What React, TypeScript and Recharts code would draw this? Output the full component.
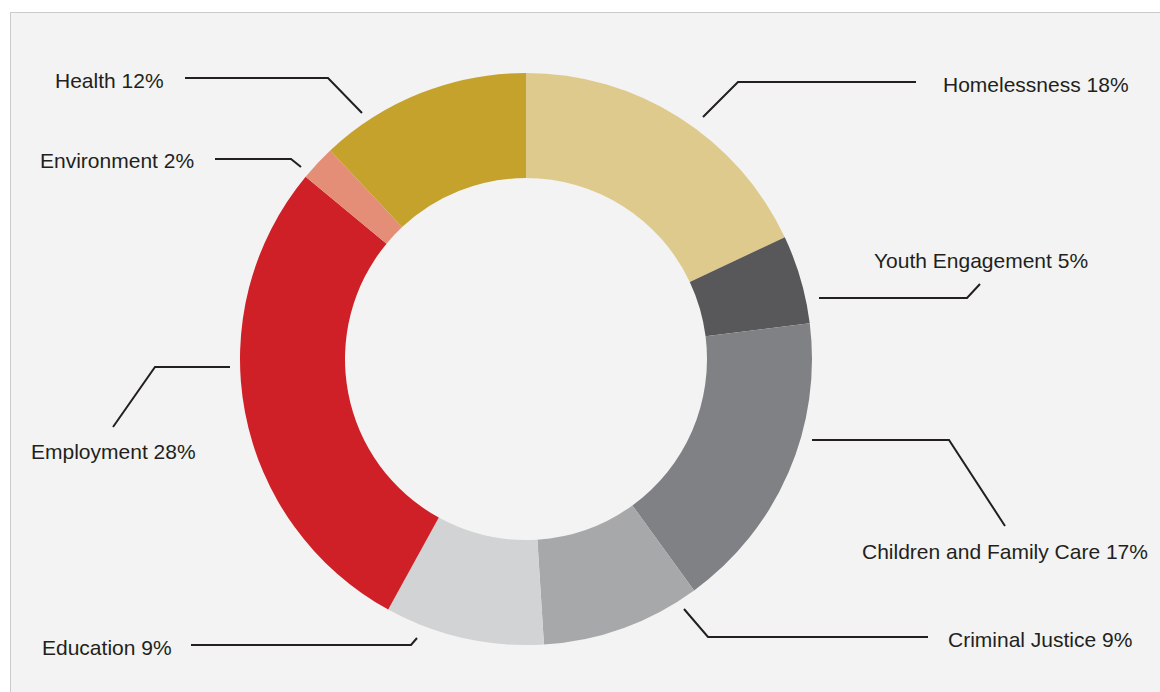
import React from "react";
import { PieChart, Pie, Cell } from "recharts";

const categories = [
  "Homelessness",
  "Youth Engagement",
  "Children and Family Care",
  "Criminal Justice",
  "Education",
  "Employment",
  "Environment",
  "Health",
];
const shares = [18, 5, 17, 9, 9, 28, 2, 12];
const colors = ["#dfca8e", "#58585a", "#808184", "#a7a8aa", "#d2d3d4", "#cf2027", "#e58e77", "#c5a22c"];

// Leader-line and label layout, offsets relative to the pie centre
const labelLayout: { line: [number, number][]; text: [number, number] }[] = [
  { line: [[177, -242], [212, -277], [390, -277]], text: [417, -267] },
  { line: [[293, -61], [441, -61], [454, -75]], text: [348, -91] },
  { line: [[286, 81], [423, 81], [479, 167]], text: [336, 200] },
  { line: [[158, 250], [182, 278], [402, 278]], text: [422, 288] },
  { line: [[-335, 286], [-115, 286], [-109, 279]], text: [-484, 296] },
  { line: [[-296, 8], [-371, 8], [-413, 68]], text: [-495, 100] },
  { line: [[-311, -200], [-235, -200], [-225, -192]], text: [-486, -191] },
  { line: [[-341, -281], [-198, -281], [-164, -246]], text: [-471, -271] },
];

const data = categories.map((name, i) => ({ name, value: shares[i] }));

const renderLabel = (props: any) => {
  const { cx, cy, index } = props;
  const lay = labelLayout[index];
  const pts = lay.line.map(([x, y]) => `${cx + x},${cy + y}`).join(" ");
  return (
    <g key={`lbl-${index}`}>
      <polyline points={pts} fill="none" stroke="#231f20" strokeWidth={2} />
      <text
        x={cx + lay.text[0]}
        y={cy + lay.text[1]}
        textAnchor="start"
        fill="#231f20"
        fontSize={21}
        fontFamily="'Liberation Sans', Arial, sans-serif"
      >
        {`${categories[index]} ${shares[index]}%`}
      </text>
    </g>
  );
};

export default function App() {
  return (
    <div style={{ position: "absolute", left: 0, top: 0, width: 1160, height: 692, background: "#ffffff", overflow: "hidden" }}>
      <div
        style={{
          position: "absolute",
          left: 10,
          top: 12,
          width: 1160,
          height: 700,
          background: "#f2f3f2",
          borderTop: "1px solid #cbcbcb",
          borderLeft: "1px solid #cbcbcb",
        }}
      />
      <div style={{ position: "absolute", left: 0, top: 0 }}>
        <PieChart width={1160} height={692} margin={{ top: 0, right: 0, bottom: 0, left: 0 }}>
          <Pie
            data={data}
            dataKey="value"
            nameKey="name"
            cx={526}
            cy={359}
            outerRadius={286}
            innerRadius={181}
            startAngle={90}
            endAngle={-270}
            stroke="none"
            isAnimationActive={false}
            label={renderLabel}
            labelLine={false}
          >
            {data.map((d, i) => (
              <Cell key={d.name} fill={colors[i]} />
            ))}
          </Pie>
        </PieChart>
      </div>
    </div>
  );
}
